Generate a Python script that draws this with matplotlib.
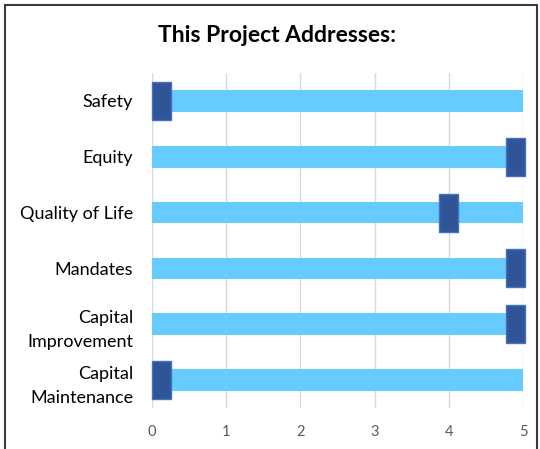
import matplotlib.pyplot as plt
from matplotlib.patches import Rectangle
import numpy as np

# chart data
categories = ["Safety", "Equity", "Quality of Life", "Mandates",
              "Capital\nImprovement", "Capital\nMaintenance"]
scale_max = [5, 5, 5, 5, 5, 5]
scores = [0, 5, 4, 5, 5, 0]
x_ticks = [0, 1, 2, 3, 4, 5]

plt.rcParams['font.family'] = ['Lato', 'DejaVu Sans']

fig = plt.figure(figsize=(5.4, 4.49), dpi=100)
ax = fig.add_axes([0.2815, 0.0913, 0.687, 0.7461])

y = np.arange(len(categories))
ax.barh(y, scale_max, height=0.39, color="#66CCFF", zorder=2)

# score markers, kept inside the plot area like Excel does
w = 0.26
for yi, v in zip(y, scores):
    left = min(max(v - w / 2, 0), 5.03 - w)
    ax.add_patch(Rectangle((left, yi - 0.34), w, 0.68, facecolor="#2F5597",
                           edgecolor="#4472C4", linewidth=1, zorder=3, clip_on=False))

ax.set_xlim(0, 5)
ax.set_ylim(len(categories) - 0.5, -0.5)
ax.set_yticks(y)
ax.set_yticklabels(categories, fontsize=13, color="#000000", linespacing=1.65)
ax.set_xticks(x_ticks)
ax.set_xticklabels([str(t) for t in x_ticks], fontsize=10.5, color="#595959")
ax.tick_params(axis="both", length=0)
ax.tick_params(axis="y", pad=13.5)
ax.tick_params(axis="x", pad=12)
for s in ax.spines.values():
    s.set_visible(False)
ax.grid(axis="x", color="#D9D9D9", linewidth=1, zorder=0)
ax.set_axisbelow(True)

fig.text(0.513, 0.922, "This Project Addresses:", ha="center", va="center",
         fontsize=16.5, fontweight="bold")

fig.patches.append(Rectangle((5 / 540, -0.1), 532 / 540, 1.1 - 5 / 449,
                             transform=fig.transFigure, fill=False,
                             edgecolor="#3a3a3a", linewidth=1.5))

fig.savefig("out.png", dpi=100)
